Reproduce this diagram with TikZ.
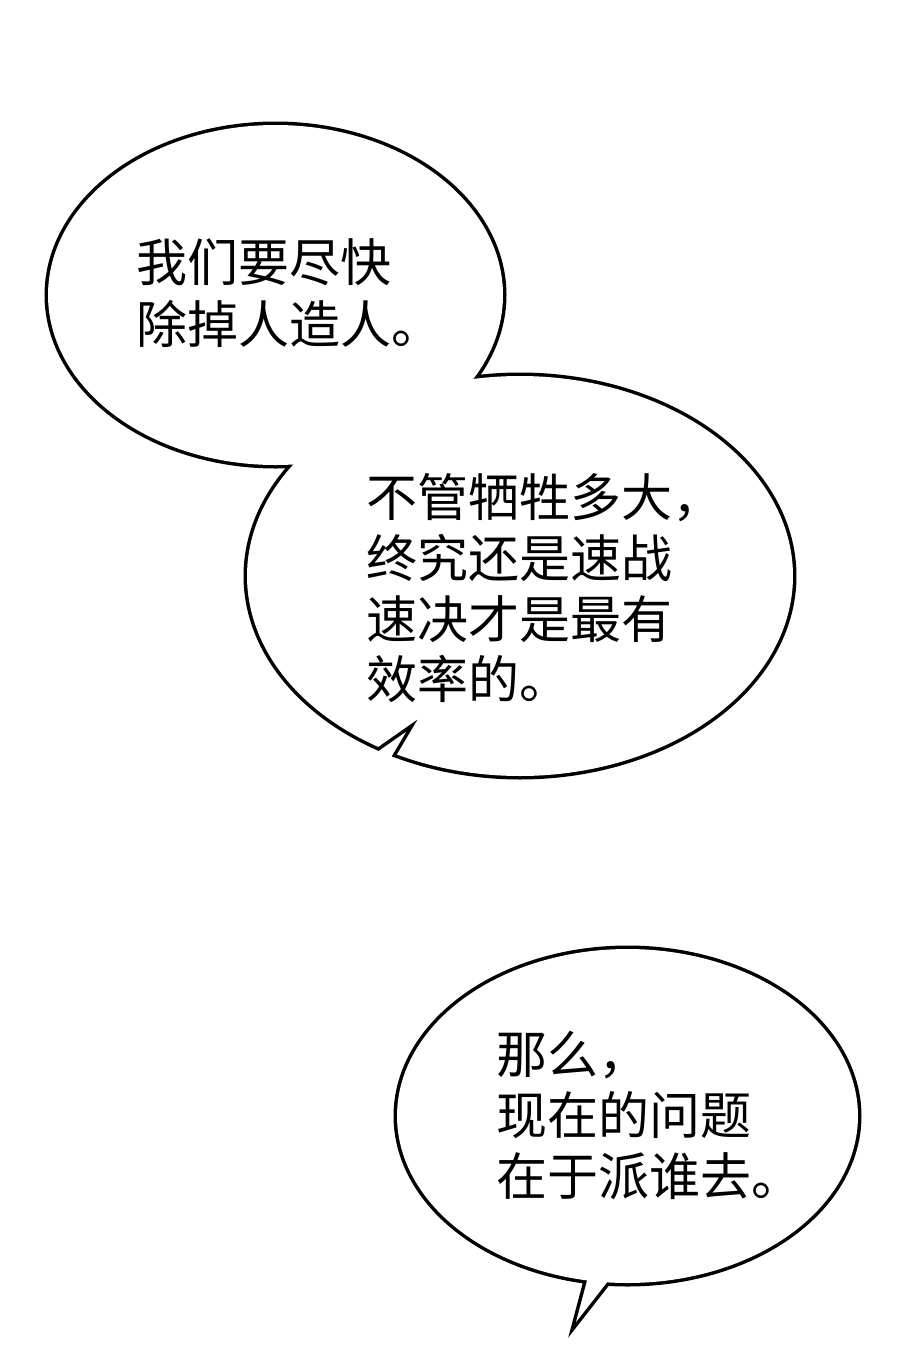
\documentclass[tikz,border=0pt]{standalone}
\usepackage{fontspec}
\newfontfamily\cjkfont{Noto Sans CJK SC}
\begin{document}
\begin{tikzpicture}[x=1pt,y=-1pt,
  outline/.style={line width=7pt, line join=miter, draw=black},
  paper/.style={fill=white},
  speech/.style={font=\cjkfont\fontsize{51pt}{61.5pt}\selectfont, anchor=base west, inner sep=0pt, text=black}]
\useasboundingbox (0,0) rectangle (900,1355);
\fill[white] (0,0) rectangle (900,1355);
% outlines of the upper double bubble
\draw[outline] plot[domain=0:358.5,samples=240,smooth cycle] ({275.5+227.5*cos(\x)},{295+170*sin(\x)});
\draw[outline] plot[domain=-238.7:116.8,samples=240,smooth] ({520+273*cos(\x)},{576+200*sin(\x)}) -- (418,719) -- cycle;
% white interiors
\path[paper] plot[domain=0:358.5,samples=240,smooth cycle] ({275.5+227.5*cos(\x)},{295+170*sin(\x)});
\path[paper] plot[domain=-238.7:116.8,samples=240,smooth] ({520+273*cos(\x)},{576+200*sin(\x)}) -- (418,719) -- cycle;
% lower bubble
\draw[outline] plot[domain=100.1:455.1,samples=240,smooth] ({627.5+230.5*cos(\x)},{1116+167*sin(\x)}) -- (576,1322) -- cycle;
\path[paper] plot[domain=100.1:455.1,samples=240,smooth] ({627.5+230.5*cos(\x)},{1116+167*sin(\x)}) -- (576,1322) -- cycle;
% texts
\node[speech] (a1) at (136,281) {我们要尽快};
\node[speech] (a2) at (136,343) {除掉人造人。};
\node[speech] (b1) at (366,516) {不管牺牲多大，};
\node[speech] (b2) at (366,577) {终究还是速战};
\node[speech] (b3) at (366,638) {速决才是最有};
\node[speech] (b4) at (366,698) {效率的。};
\node[speech] (c1) at (496,1073) {那么，};
\node[speech] (c2) at (496,1134) {现在的问题};
\node[speech] (c3) at (496,1195) {在于派谁去。};
\end{tikzpicture}
\end{document}
